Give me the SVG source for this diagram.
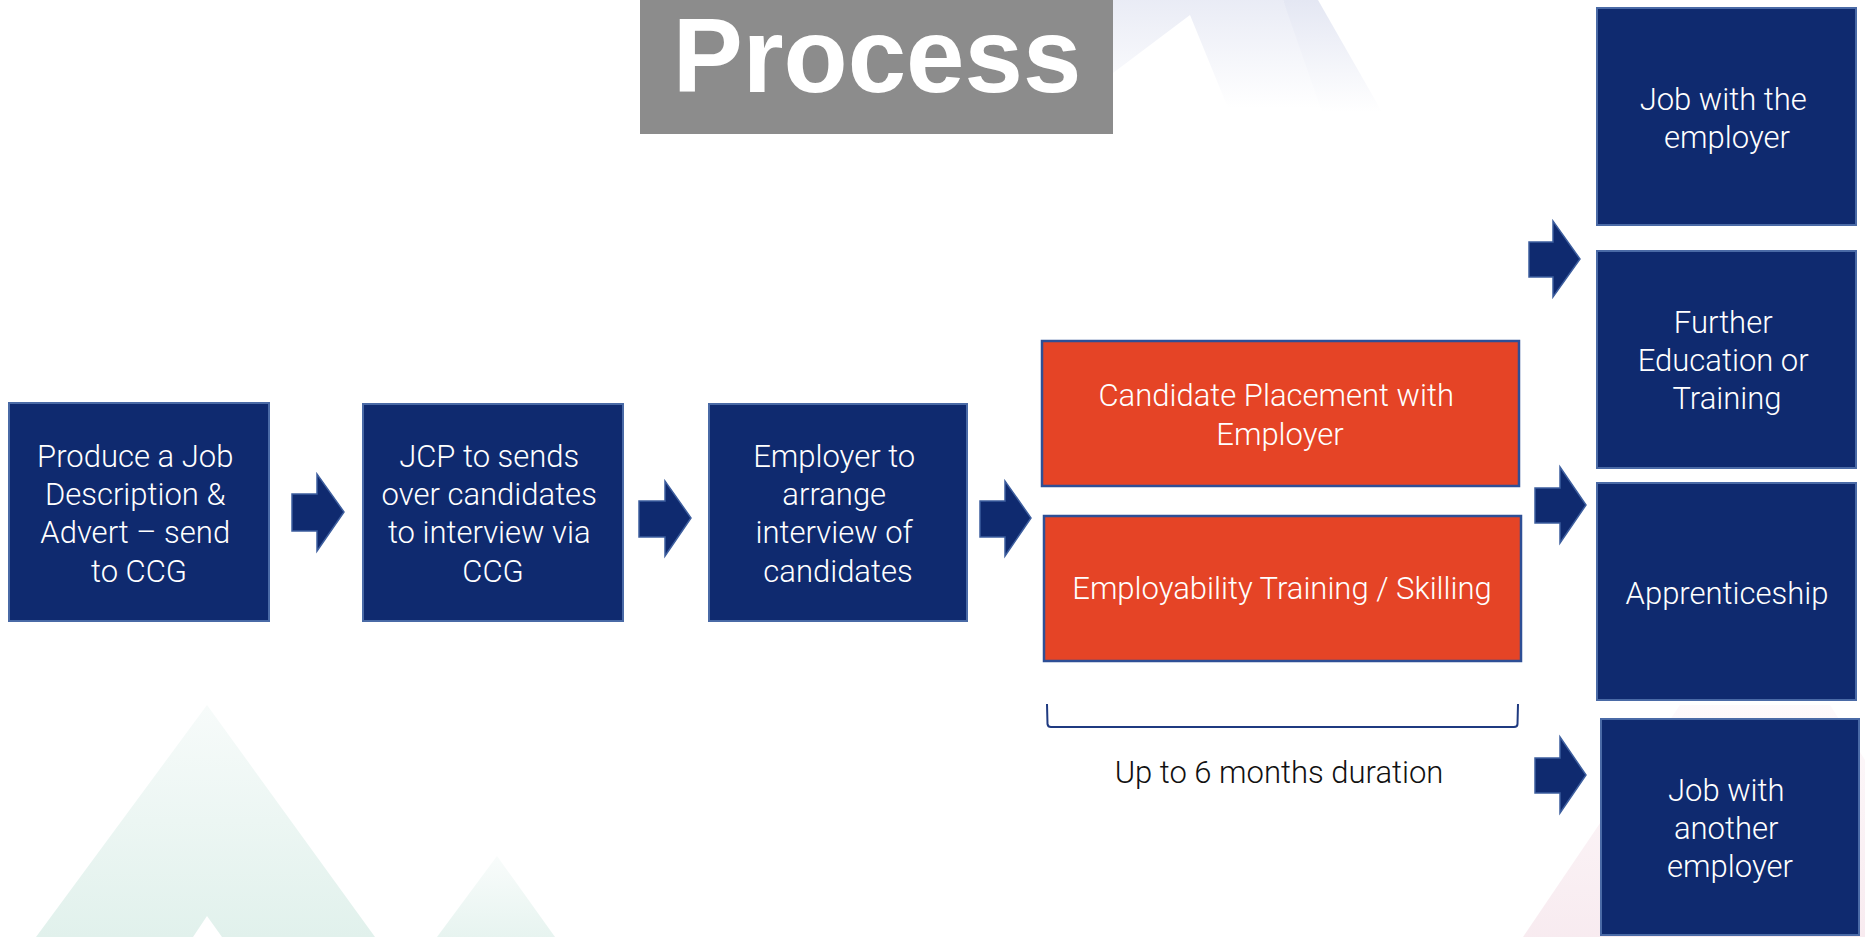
<svg xmlns="http://www.w3.org/2000/svg" width="1865" height="937" viewBox="0 0 1865 937">
  <defs>
    <linearGradient id="gGreen" x1="0" y1="0" x2="0" y2="1">
      <stop offset="0" stop-color="#f7fbfa"/>
      <stop offset="1" stop-color="#e1f1ec"/>
    </linearGradient>
    <linearGradient id="gLav" x1="0" y1="0" x2="0" y2="1">
      <stop offset="0" stop-color="#e4e7f3"/>
      <stop offset="1" stop-color="#ffffff"/>
    </linearGradient>
    <linearGradient id="gPink" x1="0" y1="0" x2="0" y2="1">
      <stop offset="0" stop-color="#fdf8fa"/>
      <stop offset="1" stop-color="#f6e6ec"/>
    </linearGradient>
    <style>
      .navy { fill: #0f2a6f; stroke: #4a6aa6; stroke-width: 2; }
      .red { fill: #e54426; stroke: #2e4f96; stroke-width: 2.5; }
      .arrow { fill: #0f2a6f; stroke: #3d5e9e; stroke-width: 1.5; stroke-linejoin: miter; }
      .lbl { font-family: Roboto, "Liberation Sans", Arial, sans-serif; font-weight: 300; font-size: 31px; fill: #ffffff; text-anchor: middle; }
      .note { font-family: Roboto, "Liberation Sans", Arial, sans-serif; font-weight: 300; font-size: 31px; fill: #111111; text-anchor: middle; }
      .title { font-family: "Liberation Sans", Arial, sans-serif; font-size: 105px; font-weight: bold; fill: #ffffff; text-anchor: middle; }
    </style>
  </defs>

  <rect x="0" y="0" width="1865" height="937" fill="#ffffff"/>

  <!-- faint background watermark -->
  <g id="background">
    <polygon points="207,705 375,937 222,937 207,916 193,937 36,937" fill="url(#gGreen)"/>
    <polygon points="497,856 555,937 437,937" fill="url(#gGreen)" opacity="0.8"/>
    <polygon points="1113,0 1283,0 1330,108 1228,108 1190,15 1113,73" fill="url(#gLav)" opacity="0.8"/>
    <polygon points="1283,0 1318,0 1382,112 1322,112" fill="url(#gLav)"/>
    <polygon points="1523,937 1680,705 1830,705 1865,760 1865,937" fill="url(#gPink)" opacity="0.8"/>
  </g>

  <!-- title -->
  <g id="title">
    <rect x="640" y="0" width="473" height="134" fill="#8c8c8c"/>
    <text class="title" x="877" y="92">Process</text>
  </g>

  <!-- nodes -->
  <g id="node-produce">
    <rect class="navy" x="9" y="403" width="260" height="218"/>
    <text class="lbl" x="139" y="467">
      <tspan x="139">Produce a Job</tspan>
      <tspan x="139" dy="38.2">Description &amp;</tspan>
      <tspan x="139" dy="38.2">Advert – send</tspan>
      <tspan x="139" dy="38.2">to CCG</tspan>
    </text>
  </g>

  <g id="node-jcp">
    <rect class="navy" x="363" y="404" width="260" height="217"/>
    <text class="lbl" x="493" y="467">
      <tspan x="493">JCP to sends</tspan>
      <tspan x="493" dy="38.2">over candidates</tspan>
      <tspan x="493" dy="38.2">to interview via</tspan>
      <tspan x="493" dy="38.2">CCG</tspan>
    </text>
  </g>

  <g id="node-employer">
    <rect class="navy" x="709" y="404" width="258" height="217"/>
    <text class="lbl" x="838" y="467">
      <tspan x="838">Employer to</tspan>
      <tspan x="838" dy="38.2">arrange</tspan>
      <tspan x="838" dy="38.2">interview of</tspan>
      <tspan x="838" dy="38.2">candidates</tspan>
    </text>
  </g>

  <g id="node-placement">
    <rect class="red" x="1042" y="341" width="477" height="145"/>
    <text class="lbl" x="1280" y="406">
      <tspan x="1280">Candidate Placement with</tspan>
      <tspan x="1280" dy="39">Employer</tspan>
    </text>
  </g>

  <g id="node-training">
    <rect class="red" x="1044" y="516" width="477" height="145"/>
    <text class="lbl" x="1282" y="599">Employability Training / Skilling</text>
  </g>

  <g id="node-duration">
    <text class="note" x="1279" y="783">Up to 6 months duration</text>
  </g>

  <g id="node-job-employer">
    <rect class="navy" x="1597" y="8" width="259" height="217"/>
    <text class="lbl" x="1727" y="110">
      <tspan x="1727">Job with the</tspan>
      <tspan x="1727" dy="38">employer</tspan>
    </text>
  </g>

  <g id="node-further">
    <rect class="navy" x="1597" y="251" width="259" height="217"/>
    <text class="lbl" x="1727" y="333">
      <tspan x="1727">Further</tspan>
      <tspan x="1727" dy="38">Education or</tspan>
      <tspan x="1727" dy="38">Training</tspan>
    </text>
  </g>

  <g id="node-apprenticeship">
    <rect class="navy" x="1597" y="483" width="259" height="217"/>
    <text class="lbl" x="1727" y="604">Apprenticeship</text>
  </g>

  <g id="node-job-another">
    <rect class="navy" x="1601" y="719" width="258" height="216"/>
    <text class="lbl" x="1730" y="801">
      <tspan x="1730">Job with</tspan>
      <tspan x="1730" dy="38">another</tspan>
      <tspan x="1730" dy="38">employer</tspan>
    </text>
  </g>

  <!-- connectors -->
  <g id="connectors">
    <polygon class="arrow" points="292,494 317,494 317,474 344,512 317,551 317,531 292,531"/>
    <polygon class="arrow" points="639,501 665,501 665,481 691,518 665,556 665,537 639,537"/>
    <polygon class="arrow" points="980,501 1005,501 1005,481 1031,518 1005,556 1005,537 980,537"/>
    <polygon class="arrow" points="1529,242 1553,242 1553,221 1580,259 1553,297 1553,277 1529,277"/>
    <polygon class="arrow" points="1535,488 1560,488 1560,467 1586,505 1560,543 1560,523 1535,523"/>
    <polygon class="arrow" points="1535,758 1560,758 1560,737 1586,775 1560,813 1560,793 1535,793"/>
    <path d="M1047,704 L1047.5,724 Q1048,727 1051,727 L1514,727 Q1517.5,727 1517.5,724 L1518,704" fill="none" stroke="#1f3a80" stroke-width="2"/>
  </g>
</svg>
